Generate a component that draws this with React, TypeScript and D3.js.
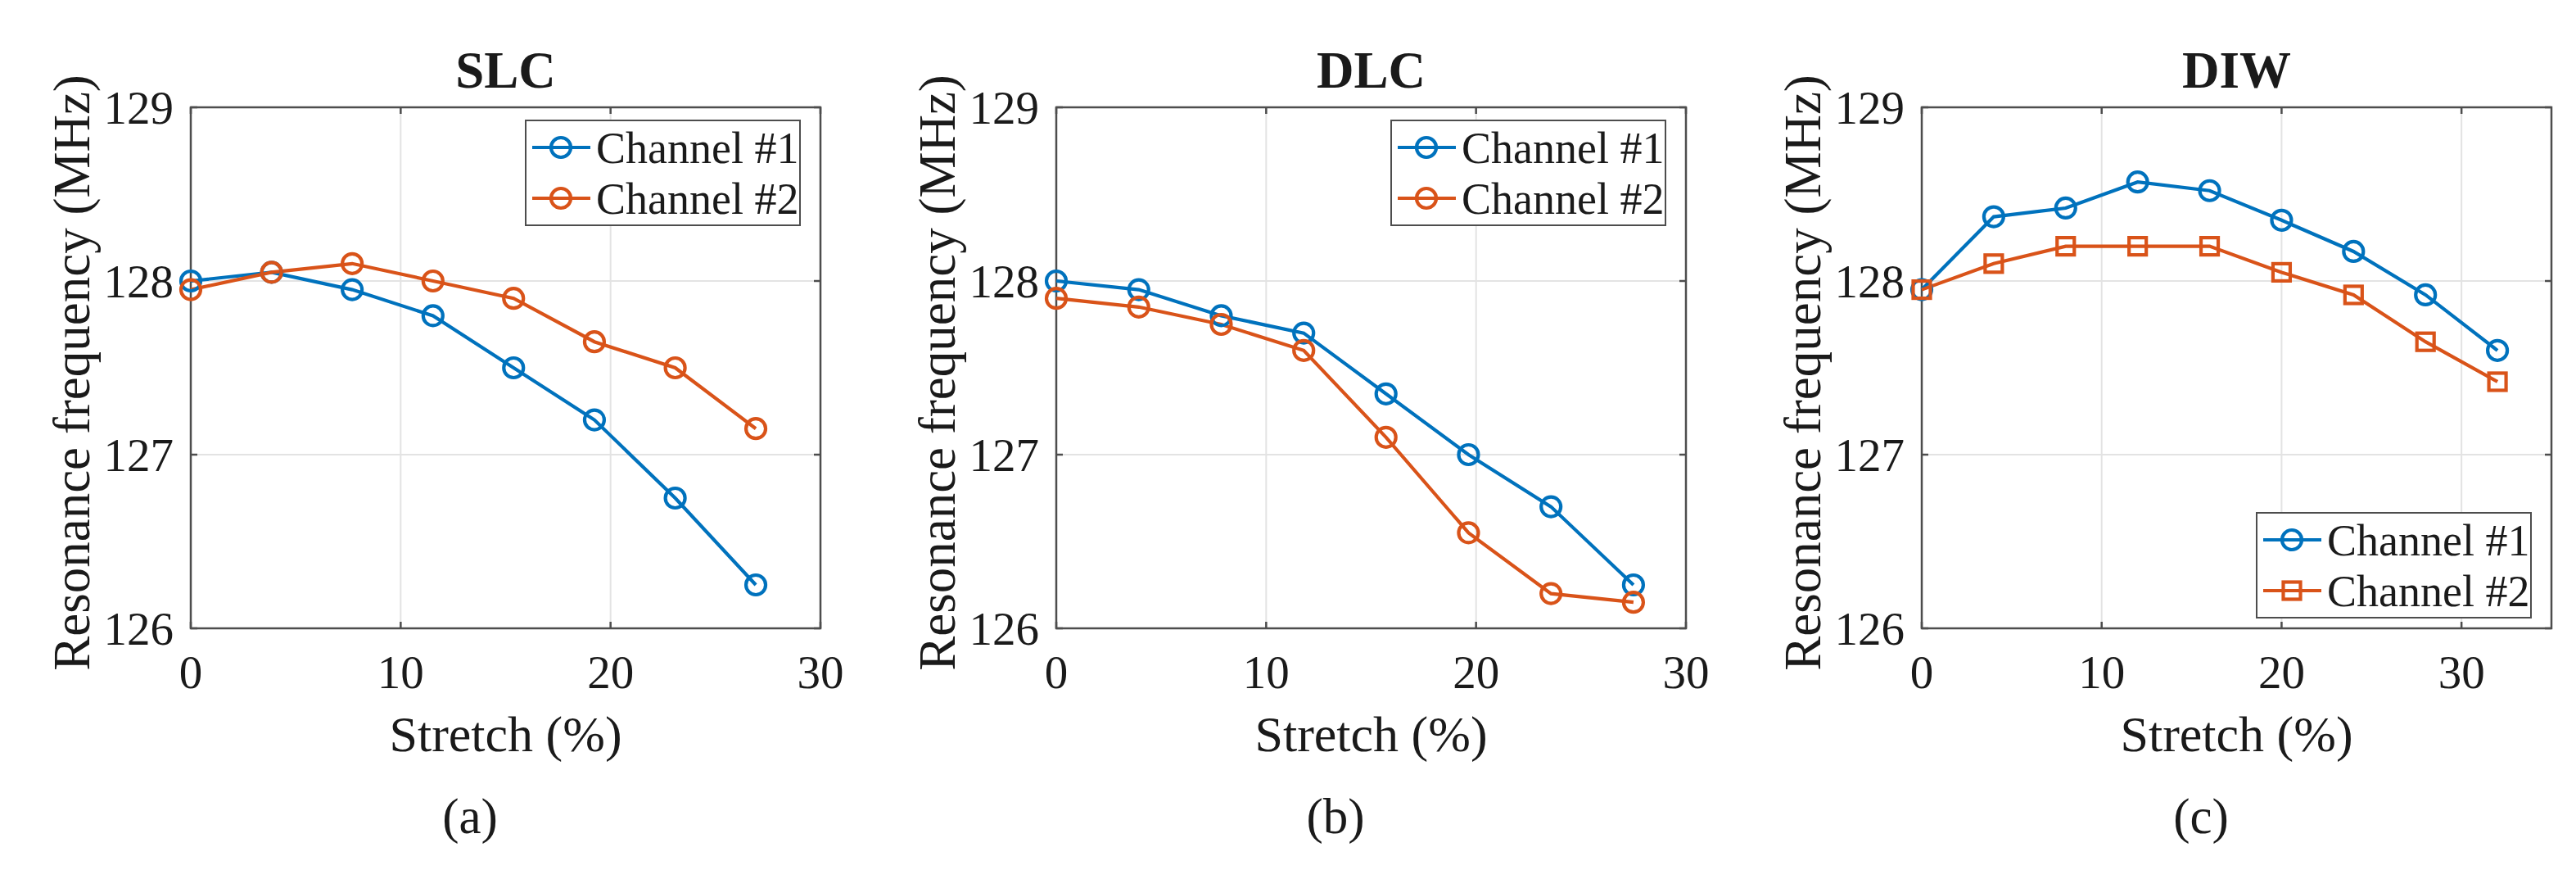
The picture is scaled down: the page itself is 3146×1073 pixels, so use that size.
import * as d3 from 'd3'

const slcStretch = [0, 3.85, 7.69, 11.54, 15.38, 19.23, 23.08, 26.92]
const slcCh1 = [128.0, 128.05, 127.95, 127.8, 127.5, 127.2, 126.75, 126.25]
const slcCh2 = [127.95, 128.05, 128.1, 128.0, 127.9, 127.65, 127.5, 127.15]

const dlcStretch = [0, 3.93, 7.86, 11.79, 15.71, 19.64, 23.57, 27.5]
const dlcCh1 = [128.0, 127.95, 127.8, 127.7, 127.35, 127.0, 126.7, 126.25]
const dlcCh2 = [127.9, 127.85, 127.75, 127.6, 127.1, 126.55, 126.2, 126.15]

const diwStretch = [0, 4, 8, 12, 16, 20, 24, 28, 32]
const diwCh1 = [127.95, 128.37, 128.42, 128.57, 128.52, 128.35, 128.17, 127.92, 127.6]
const diwCh2 = [127.95, 128.1, 128.2, 128.2, 128.2, 128.05, 127.92, 127.65, 127.42]

const seriesNames = ['Channel #1', 'Channel #2']
const yTicks = [126, 127, 128, 129]

const BLUE = '#0072BD'
const ORANGE = '#D95319'
const FONT = '"Liberation Serif", "Times New Roman", serif'
const INK = '#1a1a1a'

interface PanelSpec {
  title: string
  tag: string
  left: number
  xMax: number
  xTicks: number[]
  stretch: number[]
  ch1: number[]
  ch2: number[]
  marker2: 'circle' | 'square'
  legendPos: 'top' | 'bottom'
}

const panels: PanelSpec[] = [
  { title: 'SLC', tag: '(a)', left: 233, xMax: 30, xTicks: [0, 10, 20, 30],
    stretch: slcStretch, ch1: slcCh1, ch2: slcCh2, marker2: 'circle', legendPos: 'top' },
  { title: 'DLC', tag: '(b)', left: 1290, xMax: 30, xTicks: [0, 10, 20, 30],
    stretch: dlcStretch, ch1: dlcCh1, ch2: dlcCh2, marker2: 'circle', legendPos: 'top' },
  { title: 'DIW', tag: '(c)', left: 2347, xMax: 35, xTicks: [0, 10, 20, 30],
    stretch: diwStretch, ch1: diwCh1, ch2: diwCh2, marker2: 'square', legendPos: 'bottom' },
]

const top = 131
const bottom = 767
const plotW = 769
const LW = 4.2

function Marker({ kind, x, y, color }: { kind: 'circle' | 'square'; x: number; y: number; color: string }) {
  if (kind === 'square') {
    return <rect x={x - 10.5} y={y - 10.5} width={21} height={21} fill="none" stroke={color} strokeWidth={LW} />
  }
  return <circle cx={x} cy={y} r={12} fill="none" stroke={color} strokeWidth={LW} />
}

function Label(props: any) {
  return <text fontFamily={FONT} fill={INK} {...props} />
}

function Panel({ p }: { p: PanelSpec }) {
  const right = p.left + plotW
  const x = d3.scaleLinear().domain([0, p.xMax]).range([p.left, right])
  const y = d3.scaleLinear().domain([126, 129]).range([bottom, top])
  const cx = (p.left + right) / 2

  const line = d3.line<[number, number]>()
    .x(d => x(d[0]))
    .y(d => y(d[1]))

  const s1 = p.stretch.map((s, i) => [s, p.ch1[i]] as [number, number])
  const s2 = p.stretch.map((s, i) => [s, p.ch2[i]] as [number, number])

  // legend box
  const lgW = 335
  const lgH = 128
  const lgX = right - 360
  const lgY = p.legendPos === 'top' ? top + 16 : bottom - 13 - lgH
  const markers: ('circle' | 'square')[] = ['circle', p.marker2]
  const colors = [BLUE, ORANGE]

  const xGrid = p.xTicks.filter(t => t > 0 && t < p.xMax)

  return (
    <g>
      {/* grid */}
      {xGrid.map(t => (
        <line key={'gx' + t} x1={x(t)} x2={x(t)} y1={top} y2={bottom} stroke="#e3e3e3" strokeWidth={2} />
      ))}
      {yTicks.slice(1, -1).map(t => (
        <line key={'gy' + t} x1={p.left} x2={right} y1={y(t)} y2={y(t)} stroke="#e3e3e3" strokeWidth={2} />
      ))}

      {/* box */}
      <rect x={p.left} y={top} width={plotW} height={bottom - top} fill="none" stroke="#4d4d4d" strokeWidth={2.5} />

      {/* ticks */}
      {p.xTicks.map(t => (
        <g key={'tx' + t}>
          <line x1={x(t)} x2={x(t)} y1={bottom} y2={bottom - 8} stroke="#4d4d4d" strokeWidth={2.5} />
          <line x1={x(t)} x2={x(t)} y1={top} y2={top + 8} stroke="#4d4d4d" strokeWidth={2.5} />
          <Label x={x(t)} y={bottom + 73} textAnchor="middle" fontSize={57}>{t}</Label>
        </g>
      ))}
      {yTicks.map(t => (
        <g key={'ty' + t}>
          <line x1={p.left} x2={p.left + 8} y1={y(t)} y2={y(t)} stroke="#4d4d4d" strokeWidth={2.5} />
          <line x1={right} x2={right - 8} y1={y(t)} y2={y(t)} stroke="#4d4d4d" strokeWidth={2.5} />
          <Label x={p.left - 21} y={y(t) + 20} textAnchor="end" fontSize={57}>{t}</Label>
        </g>
      ))}

      {/* series */}
      <path d={line(s1) || ''} fill="none" stroke={BLUE} strokeWidth={LW} />
      <path d={line(s2) || ''} fill="none" stroke={ORANGE} strokeWidth={LW} />
      {s1.map((d, i) => <Marker key={'m1' + i} kind="circle" x={x(d[0])} y={y(d[1])} color={BLUE} />)}
      {s2.map((d, i) => <Marker key={'m2' + i} kind={p.marker2} x={x(d[0])} y={y(d[1])} color={ORANGE} />)}

      {/* legend */}
      <rect x={lgX} y={lgY} width={lgW} height={lgH} fill="#fff" stroke="#4d4d4d" strokeWidth={2} />
      {seriesNames.map((name, i) => {
        const ly = lgY + 33 + i * 62
        return (
          <g key={name}>
            <line x1={lgX + 8} x2={lgX + 79} y1={ly} y2={ly} stroke={colors[i]} strokeWidth={LW} />
            <Marker kind={markers[i]} x={lgX + 43} y={ly} color={colors[i]} />
            <Label x={lgX + 86} y={ly + 19} fontSize={54}>{name}</Label>
          </g>
        )
      })}

      {/* labels */}
      <Label x={cx} y={107} textAnchor="middle" fontSize={63} fontWeight="bold">{p.title}</Label>
      <Label x={cx} y={917} textAnchor="middle" fontSize={62}>Stretch (%)</Label>
      <Label transform={`translate(${p.left - 124},455) rotate(-90)`} textAnchor="middle" fontSize={63}>
        Resonance frequency (MHz)
      </Label>
      <Label x={p.left + 341} y={1017} textAnchor="middle" fontSize={61}>{p.tag}</Label>
    </g>
  )
}

export default function App() {
  return (
    <svg width={3146} height={1073} style={{ position: 'absolute', left: 0, top: 0, background: '#fff' }}>
      <rect width={3146} height={1073} fill="#fff" />
      {panels.map(p => <Panel key={p.title} p={p} />)}
    </svg>
  )
}
